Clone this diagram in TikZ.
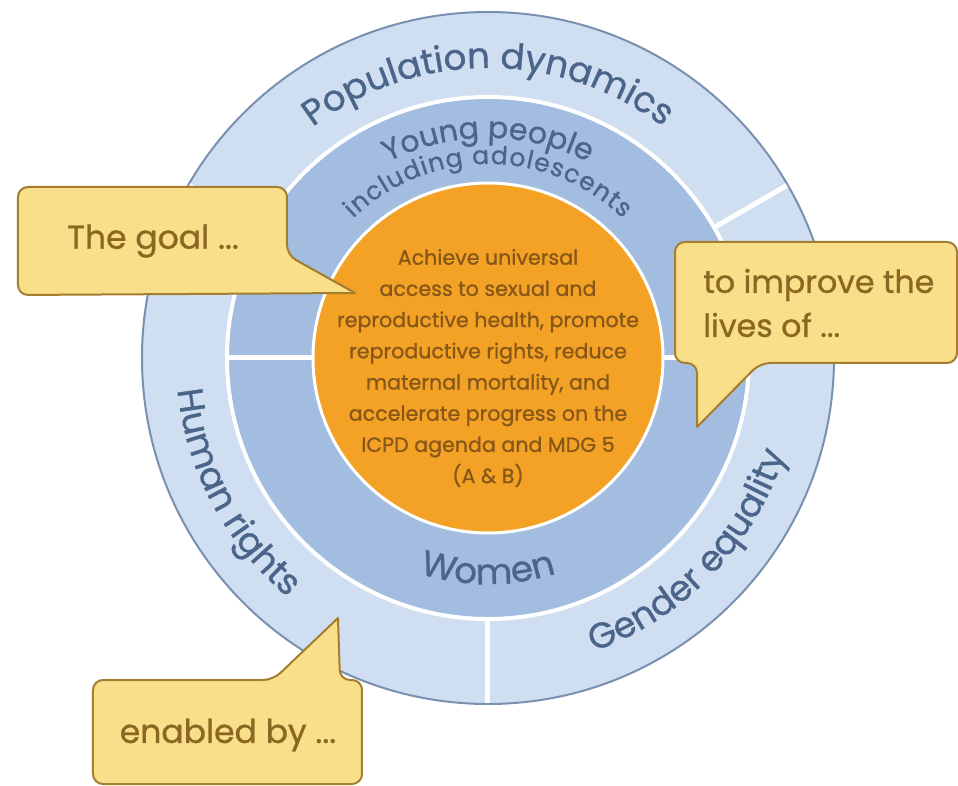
\documentclass[tikz,border=0pt]{standalone}
\usepackage{fontspec}
\setmainfont{Poppins}[FakeBold=0.9]
\usetikzlibrary{decorations.text}

\definecolor{ringlight}{HTML}{CFDFF1}
\definecolor{ringmid}{HTML}{A2BDE0}
\definecolor{ringline}{HTML}{7A90B0}
\definecolor{ringtext}{HTML}{4A6589}
\definecolor{aimfill}{HTML}{F4A225}
\definecolor{aimtext}{HTML}{875719}
\definecolor{bubblefill}{HTML}{F9DF89}
\definecolor{bubbleline}{HTML}{A47E2E}
\definecolor{bubbletext}{HTML}{8A6822}

\newcommand\ringfont{\fontsize{17.8}{20}\selectfont}
\newcommand\youngfont{\fontsize{15}{16}\selectfont}
\newcommand\adolfont{\fontsize{12.5}{14}\selectfont}

\tikzset{
  bubble/.style={fill=bubblefill, draw=bubbleline, line width=1pt, rounded corners=5pt, line cap=round},
  bubblelabel/.style={text=bubbletext, font=\fontsize{16.5}{22}\selectfont, inner sep=0pt},
  divider/.style={draw=white, line width=2.5pt},
  ringlabel/.style={decorate, decoration={text along path, text color=ringtext, text align=center}},
}

\begin{document}
\begin{tikzpicture}[x=0.5pt, y=0.5pt]
% canvas 958 x 786, centre of the rings at the origin
\fill[white] (-488,-428) rectangle (470,358);
\useasboundingbox (-488,-428) rectangle (470,358);

% outer ring
\filldraw[fill=ringlight, draw=ringline, line width=1pt] (0,0) circle[radius=346];
\foreach \a in {30,150,270}
  \draw[divider] (\a:261) -- (\a:345);

% middle ring
\filldraw[fill=ringmid, draw=white, line width=2pt] (0,0) circle[radius=261];
\foreach \a in {0,180}
  \draw[divider] (\a:175) -- (\a:261);

% centre
\filldraw[fill=aimfill, draw=white, line width=1.5pt] (0,0) circle[radius=175];
\node[text=aimtext, align=center, font=\fontsize{10.3}{15.6}\selectfont] (aim) at (0,-10)
  {Achieve universal\\access to sexual and\\reproductive health, promote\\reproductive rights, reduce\\maternal mortality, and\\accelerate progress on the\\ICPD agenda and MDG 5\\(A \& B)};

% ring labels
\path[ringlabel, decoration={text={|\ringfont|Population dynamics}}]
  (165:290) arc[start angle=165, end angle=15, radius=290];
\path[ringlabel, decoration={text={|\ringfont|Human rights}}]
  (128:312) arc[start angle=128, end angle=288, radius=312];
\path[ringlabel, decoration={text={|\ringfont|Gender equality}}]
  (-124:312) arc[start angle=-124, end angle=36, radius=312];
\path[ringlabel, decoration={text={|\youngfont|Young people}}]
  (150:220) arc[start angle=150, end angle=30, radius=220];
\path[ringlabel, decoration={text align={fit to path}, text={|\adolfont|including adolescents}}]
  (134:194) arc[start angle=134, end angle=46, radius=194];
\path[ringlabel, decoration={text={|\ringfont|Women}}]
  (200:226) arc[start angle=200, end angle=340, radius=226];

% call-outs
\filldraw[bubble] (-133,65) -- (-201,103) -- (-201,171) -- (-470,171) -- (-470,63) -- (-133,65);
\node[bubblelabel] (goalnote) at (-335,117) {The goal ...};

\filldraw[bubble] (209,-69) -- (209,-5) -- (187,-5) -- (187,116) -- (469,116) -- (469,-5) -- (272,-5) -- (209,-69);
\node[bubblelabel, align=left, anchor=west, font=\fontsize{15.8}{22}\selectfont] (livesnote) at (215,55) {to improve the\\lives of ...};

\filldraw[bubble] (-150,-260) -- (-148,-322) -- (-126,-322) -- (-126,-426) -- (-395,-426) -- (-395,-322) -- (-215,-322) -- (-150,-260);
\node[bubblelabel] (enablednote) at (-260,-377) {enabled by ...};
\end{tikzpicture}
\end{document}
